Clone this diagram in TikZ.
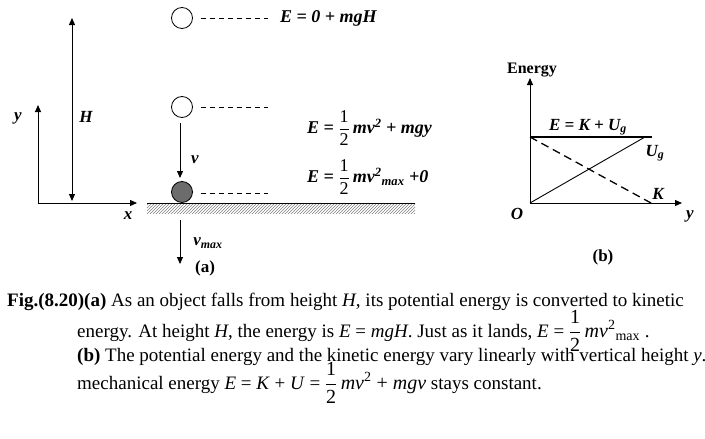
\documentclass[tikz,border=0pt]{standalone}
\usepackage{fontspec}
\usepackage{amsmath}
\setmainfont{Liberation Serif}
\usetikzlibrary{arrows.meta,patterns}
\newcommand{\hf}{\ensuremath{\dfrac{\mbox{\normalfont 1}}{\mbox{\normalfont 2}}}}
\begin{document}
\begin{tikzpicture}[x=1pt,y=-1pt,
  lab/.style={font=\bfseries\itshape\fontsize{17}{18}\selectfont,inner sep=0},
  eq/.style={font=\bfseries\itshape\fontsize{18}{20}\selectfont,inner sep=0,anchor=west},
  captxt/.style={font=\fontsize{19}{21}\selectfont,inner sep=0,anchor=west},
  ax/.style={line width=1pt,-{Triangle[length=7pt,width=6pt]}},
  ball/.style={circle,draw,line width=0.8pt,minimum size=21pt,inner sep=0},
  dsh/.style={dashed,line width=0.8pt,dash pattern=on 5pt off 4pt}]
\useasboundingbox (0,0) rectangle (705,439);
% (a)
\coordinate (o) at (38,203);
\coordinate (yt) at (38,105);
\coordinate (xt) at (137,203);
\draw[ax] (o) -- (yt);
\draw[ax] (o) -- (xt);
\node[lab] (ly) at (18,118) {y};
\node[lab] (lx) at (128,216) {x};
\coordinate (h1) at (72,201); \coordinate (h2) at (72,18);
\draw[line width=1pt,{Triangle[length=7pt,width=6pt]}-{Triangle[length=7pt,width=6pt]}] (h1) -- (h2);
\node[lab] (lH) at (86,117) {H};
\node[ball] (b1) at (182,18) {};
\node[ball] (b2) at (182,107) {};
\node[ball,fill=gray!85!black] (b3) at (182,192) {};
\coordinate (d1) at (268,18); \coordinate (d2) at (268,107); \coordinate (d3) at (268,193);
\draw[dsh] ([xshift=8pt]b1.east) -- (d1);
\draw[dsh] ([xshift=8pt]b2.east) -- (d2);
\draw[dsh] ([xshift=8pt]b3.east |- d3) -- (d3);
\fill[pattern=north east lines,pattern color=gray] (147,203) rectangle (415,213);
\draw[line width=1pt] (147,203) -- (415,203);
\coordinate (va) at (180,123); \coordinate (vb) at (180,178);
\draw[ax] (va) -- (vb);
\node[lab] (lv) at (195,160) {v};
\coordinate (wa) at (180,220); \coordinate (wb) at (180,264);
\draw[ax] (wa) -- (wb);
\node[lab] (lvm) at (208,243) {v\textsubscript{max}};
\node[font=\bfseries\fontsize{17}{18}\selectfont] (la) at (205,268) {(a)};
\node[eq] (e1) at (280,18) {E = 0 + mgH};
\node[eq] (e2) at (307,128) {E = \hf\,mv\textsuperscript{2} + mgy};
\node[eq] (e3) at (307,177) {E = \hf\,mv\textsuperscript{2}\textsubscript{max} +0};
% (b)
\coordinate (O) at (530,203);
\coordinate (Et) at (530,78); \coordinate (yr) at (682,203);
\draw[ax] (O) -- (Et);
\draw[ax] (O) -- (yr);
\coordinate (E1) at (530,137); \coordinate (E2) at (652,137);
\draw[line width=2.5pt] (E1) -- (E2);
\coordinate (U2) at (645,137);
\draw[line width=0.9pt] (O) -- (U2);
\coordinate (K2) at (651,203);
\draw[line width=1.3pt,dash pattern=on 8pt off 5pt] (E1) -- (K2);
\node[font=\bfseries\fontsize{16}{17}\selectfont,inner sep=0] (len) at (532,70) {Energy};
\node[lab] (lE) at (588,127) {E = K + U\textsubscript{g}};
\node[lab] (lU) at (655,153) {U\textsubscript{g}};
\node[lab] (lK) at (658,194) {K};
\node[lab] (lO) at (517,214) {O};
\node[lab] (lyy) at (690,216) {y};
\node[font=\bfseries\fontsize{17}{18}\selectfont] (lb) at (603,257) {(b)};
% caption
\node[captxt] (c1) at (7,302) {\textbf{Fig.(8.20)(a)} As an object falls from height \textit{H}, its potential energy is converted to kinetic};
\node[captxt] (c2) at (77,331) {energy. At height \textit{H}, the energy is \textit{E} = \textit{mgH}. Just as it lands, \textit{E} = {\fontsize{20}{20}\selectfont\hf\,\textit{mv}\textsuperscript{2}\textsubscript{max}} .};
\node[captxt] (c3) at (77,357) {\textbf{(b)} The potential energy and the kinetic energy vary linearly with vertical height \textit{y}. The};
\node[captxt] (c4) at (77,383) {mechanical energy \textit{E} = \textit{K} + \textit{U} = {\fontsize{20}{20}\selectfont\hf\,\textit{mv}\textsuperscript{2} + \textit{mgv}} stays constant.};
\end{tikzpicture}
\end{document}
